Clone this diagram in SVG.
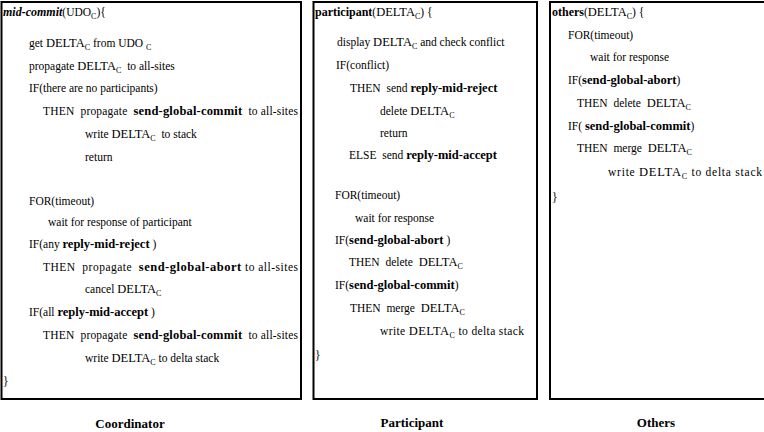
<svg xmlns="http://www.w3.org/2000/svg" width="764" height="432" viewBox="0 0 764 432" font-family="Liberation Serif">
  <defs>
    <!-- shared frame for the three procedure panels -->
    <rect id="frame" width="10" height="10"/>
  </defs>
  <rect width="764" height="432" fill="#fff"/>

  <!-- Coordinator procedure -->
  <g id="coordinator" font-size="11.5" fill="#000">
    <rect x="1.5" y="2" width="299.5" height="397" fill="#fff" stroke="#000" stroke-width="2"/>
    <text font-family="Liberation Serif" font-size="11.5" x="3" y="16"><tspan font-weight="bold" font-style="italic" font-size="12">mid-commit</tspan>(UDO<tspan font-size="8" dy="3">C</tspan><tspan dy="-3">){</tspan></text>
    <text font-family="Liberation Serif" font-size="11.5" x="29" y="47">get <tspan font-size="12.5">DELTA</tspan><tspan font-size="8" dy="3">C</tspan><tspan dy="-3"> from UDO </tspan><tspan font-size="8" dy="3">C</tspan></text>
    <text font-family="Liberation Serif" font-size="11.5" x="29" y="70">propagate <tspan font-size="12.5">DELTA</tspan><tspan font-size="8" dy="3">C</tspan><tspan dy="-3">&#160; to all-sites</tspan></text>
    <text font-family="Liberation Serif" font-size="11.5" x="29" y="92">IF(there are no participants)</text>
    <text font-family="Liberation Serif" font-size="11.5" x="43" y="115" textLength="255">THEN&#160; propagate&#160; <tspan font-weight="bold" font-size="12.5">send-global-commit</tspan>&#160; to all-sites</text>
    <text font-family="Liberation Serif" font-size="11.5" x="85" y="138">write <tspan font-size="12.5">DELTA</tspan><tspan font-size="8" dy="3">C</tspan><tspan dy="-3">&#160; to stack</tspan></text>
    <text font-family="Liberation Serif" font-size="11.5" x="85" y="161">return</text>
    <text font-family="Liberation Serif" font-size="11.5" x="29" y="205">FOR(timeout)</text>
    <text font-family="Liberation Serif" font-size="11.5" x="48" y="226">wait for response of participant</text>
    <text font-family="Liberation Serif" font-size="11.5" x="29" y="248">IF(any <tspan font-weight="bold" font-size="12.5">reply-mid-reject</tspan> )</text>
    <text font-family="Liberation Serif" font-size="11.5" x="43" y="271" textLength="255">THEN&#160; propagate&#160; <tspan font-weight="bold" font-size="12.5">send-global-abort</tspan> to all-sites</text>
    <text font-family="Liberation Serif" font-size="11.5" x="85" y="293">cancel <tspan font-size="12.5">DELTA</tspan><tspan font-size="8" dy="3">C</tspan></text>
    <text font-family="Liberation Serif" font-size="11.5" x="29" y="316">IF(all <tspan font-weight="bold" font-size="12.5">reply-mid-accept</tspan> )</text>
    <text font-family="Liberation Serif" font-size="11.5" x="43" y="339" textLength="255">THEN&#160; propagate&#160; <tspan font-weight="bold" font-size="12.5">send-global-commit</tspan>&#160; to all-sites</text>
    <text font-family="Liberation Serif" font-size="11.5" x="85" y="362">write <tspan font-size="12.5">DELTA</tspan><tspan font-size="8" dy="3">C</tspan><tspan dy="-3"> to delta stack</tspan></text>
    <text font-family="Liberation Serif" font-size="11.5" x="3" y="385">}</text>
    <text font-family="Liberation Serif" font-size="13" font-weight="bold" text-anchor="middle" x="130" y="428">Coordinator</text>
  </g>

  <!-- Participant procedure -->
  <g id="participant" font-size="11.5" fill="#000">
    <rect x="313.5" y="2" width="223.5" height="397" fill="#fff" stroke="#000" stroke-width="2"/>
    <text font-family="Liberation Serif" font-size="11.5" x="315" y="16"><tspan font-weight="bold" font-size="12">participant</tspan>(<tspan font-size="12.5">DELTA</tspan><tspan font-size="8" dy="3">C</tspan><tspan dy="-3">) {</tspan></text>
    <text font-family="Liberation Serif" font-size="11.5" x="337" y="46">display <tspan font-size="12.5">DELTA</tspan><tspan font-size="8" dy="3">C</tspan><tspan dy="-3"> and check conflict</tspan></text>
    <text font-family="Liberation Serif" font-size="11.5" x="336" y="69">IF(conflict)</text>
    <text font-family="Liberation Serif" font-size="11.5" x="350" y="92">THEN&#160; send <tspan font-weight="bold" font-size="12.5">reply-mid-reject</tspan></text>
    <text font-family="Liberation Serif" font-size="11.5" x="380" y="115">delete <tspan font-size="12.5">DELTA</tspan><tspan font-size="8" dy="3">C</tspan></text>
    <text font-family="Liberation Serif" font-size="11.5" x="380" y="137">return</text>
    <text font-family="Liberation Serif" font-size="11.5" x="349" y="159">ELSE&#160; send <tspan font-weight="bold" font-size="12.5">reply-mid-accept</tspan></text>
    <text font-family="Liberation Serif" font-size="11.5" x="335" y="199">FOR(timeout)</text>
    <text font-family="Liberation Serif" font-size="11.5" x="355" y="222">wait for response</text>
    <text font-family="Liberation Serif" font-size="11.5" x="335" y="244">IF(<tspan font-weight="bold" font-size="12.5">send-global-abort</tspan> )</text>
    <text font-family="Liberation Serif" font-size="11.5" x="349" y="266">THEN&#160; delete&#160; <tspan font-size="12.5">DELTA</tspan><tspan font-size="8" dy="3">C</tspan></text>
    <text font-family="Liberation Serif" font-size="11.5" x="335" y="289">IF(<tspan font-weight="bold" font-size="12.5">send-global-commit</tspan>)</text>
    <text font-family="Liberation Serif" font-size="11.5" x="350" y="312">THEN&#160; merge&#160; <tspan font-size="12.5">DELTA</tspan><tspan font-size="8" dy="3">C</tspan></text>
    <text font-family="Liberation Serif" font-size="11.5" x="380" y="335" textLength="144">write <tspan font-size="12.5">DELTA</tspan><tspan font-size="8" dy="3">C</tspan><tspan dy="-3"> to delta stack</tspan></text>
    <text font-family="Liberation Serif" font-size="11.5" x="315" y="359">}</text>
    <text font-family="Liberation Serif" font-size="13" font-weight="bold" text-anchor="middle" x="412" y="427">Participant</text>
  </g>

  <!-- Others procedure -->
  <g id="others" font-size="11.5" fill="#000">
    <rect x="550" y="2" width="216" height="397" fill="#fff" stroke="#000" stroke-width="2"/>
    <text font-family="Liberation Serif" font-size="11.5" x="552" y="16"><tspan font-weight="bold" font-size="12">others</tspan>(<tspan font-size="12.5">DELTA</tspan><tspan font-size="8" dy="3">C</tspan><tspan dy="-3">) {</tspan></text>
    <text font-family="Liberation Serif" font-size="11.5" x="568" y="39">FOR(timeout)</text>
    <text font-family="Liberation Serif" font-size="11.5" x="590" y="61">wait for response</text>
    <text font-family="Liberation Serif" font-size="11.5" x="568" y="84">IF(<tspan font-weight="bold" font-size="12.5">send-global-abort</tspan>)</text>
    <text font-family="Liberation Serif" font-size="11.5" x="577" y="107">THEN&#160; delete&#160; <tspan font-size="12.5">DELTA</tspan><tspan font-size="8" dy="3">C</tspan></text>
    <text font-family="Liberation Serif" font-size="11.5" x="568" y="130">IF( <tspan font-weight="bold" font-size="12.5">send-global-commit</tspan>)</text>
    <text font-family="Liberation Serif" font-size="11.5" x="577" y="152">THEN&#160; merge&#160; <tspan font-size="12.5">DELTA</tspan><tspan font-size="8" dy="3">C</tspan></text>
    <text font-family="Liberation Serif" font-size="11.5" x="608" y="176" textLength="154">write <tspan font-size="12.5">DELTA</tspan><tspan font-size="8" dy="3">C</tspan><tspan dy="-3"> to delta stack</tspan></text>
    <text font-family="Liberation Serif" font-size="11.5" x="552" y="201">}</text>
    <text font-family="Liberation Serif" font-size="13" font-weight="bold" text-anchor="middle" x="656" y="427">Others</text>
  </g>

  <!-- no connectors in this figure -->
  <g id="connectors"/>
</svg>
